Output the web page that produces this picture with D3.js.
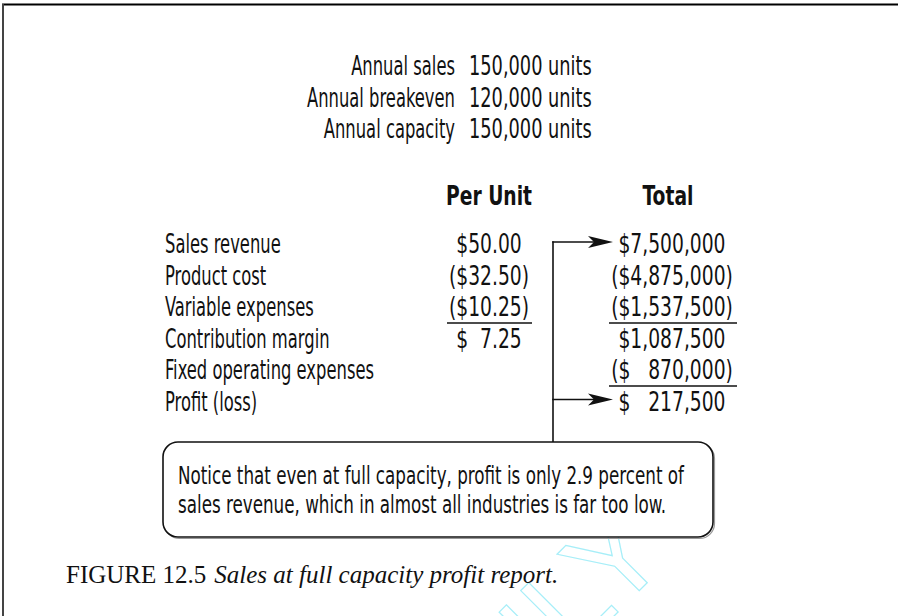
<!DOCTYPE html>
<html lang="en">
<head>
  <meta charset="utf-8">
  <title>Sales at full capacity profit report</title>
  <script src="https://cdn.jsdelivr.net/npm/d3@7/dist/d3.min.js"></script>
  <style>
    html, body { margin: 0; padding: 0; background: #fff; }
    svg { display: block; }
    .cond { font-family: "DejaVu Sans Condensed", "DejaVu Sans", sans-serif; font-stretch: condensed; }
    .pre  { white-space: pre; }
  </style>
</head>
<body>
<div id="chart"></div>
<script>
  // ---- data ----
  const infoLabels = ["Annual sales", "Annual breakeven", "Annual capacity"];
  const infoValues = ["150,000 units", "120,000 units", "150,000 units"];

  const columns   = ["Per Unit", "Total"];
  const rowLabels = ["Sales revenue", "Product cost", "Variable expenses",
                     "Contribution margin", "Fixed operating expenses", "Profit (loss)"];
  const perUnit   = ["$50.00", "($32.50)", "($10.25)", "$\u20077.25", "", ""];
  const totals    = ["$7,500,000", "($4,875,000)", "($1,537,500)", "$1,087,500",
                     "($\u2007\u2008870,000)", "$\u2007\u2008217,500"];
  const perUnitUnderlined = [2];
  const totalUnderlined   = [2, 4];
  const arrowRows = [0, 5];   // sales revenue and profit both point at the note

  const note = ["Notice that even at full capacity, profit is only 2.9 percent of",
                "sales revenue, which in almost all industries is far too low."];
  const figNo = "FIGURE 12.5";
  const figTitle = "Sales at full capacity profit report.";

  // ---- layout ----
  const W = 898, H = 616;
  const FS = 26;          // body font size
  const SX = 0.7;         // horizontal squeeze to mimic a condensed face
  const SXNUM = 0.8;      // digits are a bit wider in the original

  const svg = d3.select("#chart").append("svg")
      .attr("width", W).attr("height", H);

  // helper: position a text and squeeze it horizontally around its anchor
  const at = (x, y, sx) => `translate(${x},${y}) scale(${sx},1)`;

  // frame (top + left edges only)
  svg.append("line").attr("x1", 2).attr("x2", W).attr("y1", 4.5).attr("y2", 4.5)
     .attr("stroke", "#000").attr("stroke-width", 2);
  svg.append("line").attr("x1", 3).attr("x2", 3).attr("y1", 4).attr("y2", H)
     .attr("stroke", "#444").attr("stroke-width", 2);

  // watermark, faint outline
  svg.append("text")
     .attr("transform", "translate(672,558) rotate(-45)")
     .attr("text-anchor", "end")
     .attr("font-family", "Liberation Sans, sans-serif")
     .attr("font-size", 122)
     .attr("fill", "none")
     .attr("stroke", "#a6eef8")
     .attr("stroke-width", 1.2)
     .text("ONLY");

  const g = svg.append("g").attr("class", "cond").attr("fill", "#111").attr("font-size", FS);

  // top info block
  const infoY = d3.scalePoint().domain(d3.range(infoLabels.length)).range([75, 138]);
  g.append("g").selectAll("text").data(infoLabels).join("text")
     .attr("transform", (d, i) => at(455, infoY(i), SX))
     .attr("text-anchor", "end").text(d => d);
  g.append("g").selectAll("text").data(infoValues).join("text")
     .attr("transform", (d, i) => at(469, infoY(i), 0.76))
     .text(d => d);

  // table
  const colX = d3.scaleOrdinal().domain(columns).range([489, 672]);
  const rowY = d3.scaleLinear().domain([0, rowLabels.length - 1]).range([253, 410.5]);

  g.append("g").selectAll("text").data(columns).join("text")
     .attr("transform", d => at(colX(d) - (d === "Total" ? 4 : 0), 205, 0.8))
     .attr("text-anchor", "middle").attr("font-weight", "bold")
     .text(d => d);

  g.append("g").selectAll("text").data(rowLabels).join("text")
     .attr("transform", (d, i) => at(165, rowY(i), SX))
     .text(d => d);

  g.append("g").selectAll("text").data(perUnit).join("text")
     .attr("class", "pre")
     .attr("transform", (d, i) => at(colX("Per Unit"), rowY(i), SXNUM))
     .attr("text-anchor", "middle").text(d => d);

  g.append("g").selectAll("text").data(totals).join("text")
     .attr("class", "pre")
     .attr("transform", (d, i) => at(colX("Total"), rowY(i), SXNUM))
     .attr("text-anchor", "middle").text(d => d);

  // underlines
  const rules = perUnitUnderlined.map(r => ({r, x0: 447, x1: 532}))
      .concat(totalUnderlined.map(r => ({r, x0: 609, x1: 737})));
  g.append("g").selectAll("line").data(rules).join("line")
     .attr("x1", d => d.x0).attr("x2", d => d.x1)
     .attr("y1", d => rowY(d.r) + 7).attr("y2", d => rowY(d.r) + 7)
     .attr("stroke", "#111").attr("stroke-width", 1.6);

  // connector + arrows
  const box = {x: 163, y: 442, w: 550, h: 95};
  const connX = 553, tipX = 613;
  const ay = r => rowY(r) - 11;
  g.append("line").attr("x1", connX).attr("x2", connX)
     .attr("y1", ay(arrowRows[0]) - 0.8).attr("y2", box.y)
     .attr("stroke", "#111").attr("stroke-width", 1.6);
  g.append("g").selectAll("line").data(arrowRows).join("line")
     .attr("x1", connX - 0.8).attr("x2", tipX - 12)
     .attr("y1", d => ay(d)).attr("y2", d => ay(d))
     .attr("stroke", "#111").attr("stroke-width", 1.6);
  g.append("g").selectAll("path").data(arrowRows).join("path")
     .attr("d", d => `M${tipX},${ay(d)} L${tipX - 25},${ay(d) - 6} L${tipX - 19},${ay(d)} L${tipX - 25},${ay(d) + 6} Z`)
     .attr("fill", "#111");

  // note box
  svg.append("rect")
     .attr("x", box.x + 1.5).attr("y", box.y + 1.5).attr("width", box.w).attr("height", box.h)
     .attr("rx", 15).attr("fill", "none").attr("stroke", "#999").attr("stroke-width", 1.2);
  svg.append("rect")
     .attr("x", box.x).attr("y", box.y).attr("width", box.w).attr("height", box.h)
     .attr("rx", 15).attr("fill", "#fff").attr("stroke", "#111").attr("stroke-width", 1.6);
  svg.append("g").attr("class", "cond").attr("fill", "#111").attr("font-size", 25)
     .selectAll("text").data(note).join("text")
     .attr("transform", (d, i) => at(178, 484 + i * 29, 0.745))
     .text(d => d);

  // caption
  const cap = svg.append("text")
     .attr("x", 66).attr("y", 583)
     .attr("font-family", "Liberation Serif, 'DejaVu Serif', serif")
     .attr("font-size", 25).attr("fill", "#111");
  cap.append("tspan").text(figNo);
  cap.append("tspan").attr("dx", 8).attr("font-style", "italic").text(figTitle);
</script>
</body>
</html>
